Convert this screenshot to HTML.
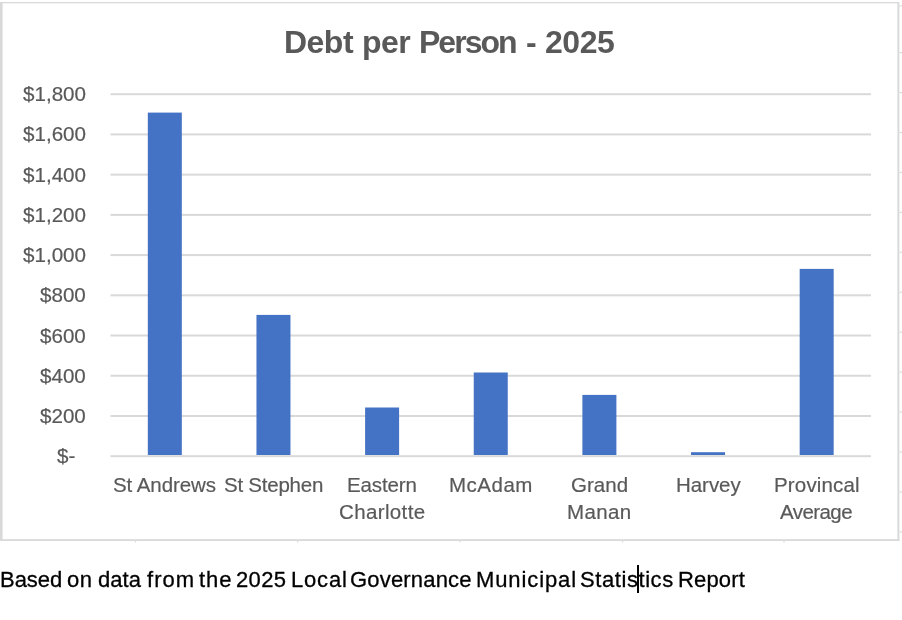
<!DOCTYPE html>
<html><head><meta charset="utf-8"><style>
html,body{margin:0;padding:0;background:#fff;width:902px;height:620px;overflow:hidden;position:relative}
body{font-family:"Liberation Sans",sans-serif;-webkit-font-smoothing:antialiased}
svg{position:absolute;left:0;top:0}
.t,.yl,.xl,.ft{will-change:transform}
.t{position:absolute;top:25.6px;font-size:32px;line-height:32px;letter-spacing:-0.82px;font-weight:bold;color:#595959;white-space:nowrap}
.yl{position:absolute;-webkit-text-stroke:0.2px #595959;font-size:20.6px;line-height:20.6px;color:#595959;white-space:nowrap;text-align:right;letter-spacing:0px}
.xl{position:absolute;-webkit-text-stroke:0.2px #595959;font-size:20.5px;line-height:20.5px;color:#595959;white-space:nowrap}
.ft{position:absolute;left:0.5px;top:568.6px;font-size:22px;line-height:22px;color:#000;white-space:nowrap;-webkit-text-stroke:0.3px #000}
.cur{position:absolute;left:637px;top:565px;width:2px;height:28px;background:#000}
</style></head><body>
<svg width="902" height="620" viewBox="0 0 902 620">
<rect x="0" y="2" width="899" height="1.3" fill="#d9d9d9"/>
<rect x="0" y="2" width="2.6" height="539" fill="#d9d9d9"/>
<rect x="897.4" y="2" width="2" height="539" fill="#d9d9d9"/>
<rect x="0" y="539.2" width="899.4" height="1.8" fill="#d9d9d9"/>
<rect x="110.5" y="93.20" width="760.5" height="2" fill="#d9d9d9"/>
<rect x="110.5" y="133.42" width="760.5" height="2" fill="#d9d9d9"/>
<rect x="110.5" y="173.64" width="760.5" height="2" fill="#d9d9d9"/>
<rect x="110.5" y="213.87" width="760.5" height="2" fill="#d9d9d9"/>
<rect x="110.5" y="254.09" width="760.5" height="2" fill="#d9d9d9"/>
<rect x="110.5" y="294.31" width="760.5" height="2" fill="#d9d9d9"/>
<rect x="110.5" y="334.53" width="760.5" height="2" fill="#d9d9d9"/>
<rect x="110.5" y="374.75" width="760.5" height="2" fill="#d9d9d9"/>
<rect x="110.5" y="414.98" width="760.5" height="2" fill="#d9d9d9"/>
<rect x="110.5" y="455.20" width="760.5" height="2" fill="#d9d9d9"/>
<rect x="147.82" y="112.60" width="34" height="342.40" fill="#4472c4"/>
<rect x="256.46" y="314.90" width="34" height="140.10" fill="#4472c4"/>
<rect x="365.11" y="407.50" width="34" height="47.50" fill="#4472c4"/>
<rect x="473.75" y="372.50" width="34" height="82.50" fill="#4472c4"/>
<rect x="582.39" y="394.90" width="34" height="60.10" fill="#4472c4"/>
<rect x="691.04" y="452.20" width="34" height="2.80" fill="#4472c4"/>
<rect x="799.68" y="268.90" width="34" height="186.10" fill="#4472c4"/>
<rect x="899.5" y="5.20" width="3" height="1.2" fill="#dcdcdc"/>
<rect x="899.5" y="52.00" width="3" height="1.2" fill="#dcdcdc"/>
<rect x="899.5" y="91.94" width="3" height="1.2" fill="#dcdcdc"/>
<rect x="899.5" y="131.88" width="3" height="1.2" fill="#dcdcdc"/>
<rect x="899.5" y="171.82" width="3" height="1.2" fill="#dcdcdc"/>
<rect x="899.5" y="211.76" width="3" height="1.2" fill="#dcdcdc"/>
<rect x="899.5" y="251.70" width="3" height="1.2" fill="#dcdcdc"/>
<rect x="899.5" y="291.64" width="3" height="1.2" fill="#dcdcdc"/>
<rect x="899.5" y="331.58" width="3" height="1.2" fill="#dcdcdc"/>
<rect x="899.5" y="371.52" width="3" height="1.2" fill="#dcdcdc"/>
<rect x="899.5" y="411.46" width="3" height="1.2" fill="#dcdcdc"/>
<rect x="899.5" y="451.40" width="3" height="1.2" fill="#dcdcdc"/>
<rect x="899.5" y="491.34" width="3" height="1.2" fill="#dcdcdc"/>
<rect x="899.5" y="531.28" width="3" height="1.2" fill="#dcdcdc"/>
<rect x="134.90" y="540" width="1.2" height="2.5" fill="#dcdcdc"/>
<rect x="297.00" y="540" width="1.2" height="2.5" fill="#dcdcdc"/>
<rect x="459.40" y="540" width="1.2" height="2.5" fill="#dcdcdc"/>
<rect x="621.90" y="540" width="1.2" height="2.5" fill="#dcdcdc"/>
<rect x="783.40" y="540" width="1.2" height="2.5" fill="#dcdcdc"/>
</svg>
<div class="t" style="left:284.16px;letter-spacing:-0.526px">Debt</div>
<div class="t" style="left:362.19px;letter-spacing:-0.502px">per</div>
<div class="t" style="left:419.36px;letter-spacing:-1.972px">Person</div>
<div class="t" style="left:525.50px;letter-spacing:0px">-</div>
<div class="t" style="left:544.79px;letter-spacing:-0.462px">2025</div>
<div class="yl" style="top:84.20px;right:815.70px">$1,800</div>
<div class="yl" style="top:124.42px;right:815.70px">$1,600</div>
<div class="yl" style="top:164.64px;right:815.70px">$1,400</div>
<div class="yl" style="top:204.87px;right:815.70px">$1,200</div>
<div class="yl" style="top:245.09px;right:815.70px">$1,000</div>
<div class="yl" style="top:285.31px;right:815.70px">$800</div>
<div class="yl" style="top:325.53px;right:815.70px">$600</div>
<div class="yl" style="top:365.75px;right:815.70px">$400</div>
<div class="yl" style="top:405.98px;right:815.70px">$200</div>
<div class="yl" style="top:446.20px;right:827.00px">$-</div>
<div class="xl" style="left:112.67px;top:474.8px;letter-spacing:-0.072px">St Andrews</div>
<div class="xl" style="left:224.07px;top:474.8px;letter-spacing:-0.231px">St Stephen</div>
<div class="xl" style="left:347.02px;top:474.8px;letter-spacing:-0.123px">Eastern</div>
<div class="xl" style="left:339.26px;top:502.1px;letter-spacing:0.371px">Charlotte</div>
<div class="xl" style="left:449.42px;top:474.8px;letter-spacing:0.511px">McAdam</div>
<div class="xl" style="left:570.97px;top:474.8px;letter-spacing:0.019px">Grand</div>
<div class="xl" style="left:566.72px;top:502.1px;letter-spacing:0.383px">Manan</div>
<div class="xl" style="left:675.82px;top:474.8px;letter-spacing:-0.042px">Harvey</div>
<div class="xl" style="left:773.82px;top:474.8px;letter-spacing:0.168px">Provincal</div>
<div class="xl" style="left:779.96px;top:502.1px;letter-spacing:-0.567px">Average</div>
<div class="ft" style="left:0.40px;letter-spacing:-0.039px">Based</div>
<div class="ft" style="left:67.38px;letter-spacing:0.582px">on</div>
<div class="ft" style="left:97.88px;letter-spacing:0.068px">data</div>
<div class="ft" style="left:147.49px;letter-spacing:1.054px">from</div>
<div class="ft" style="left:198.97px;letter-spacing:0.914px">the</div>
<div class="ft" style="left:235.79px;letter-spacing:0.33px">2025</div>
<div class="ft" style="left:290.90px;letter-spacing:0.821px">Local</div>
<div class="ft" style="left:350.39px;letter-spacing:0.181px">Governance</div>
<div class="ft" style="left:476.10px;letter-spacing:0.893px">Municipal</div>
<div class="ft" style="left:580.20px;letter-spacing:0.575px">Statistics</div>
<div class="ft" style="left:677.90px;letter-spacing:0.167px">Report</div>
<div class="cur"></div>
</body></html>
